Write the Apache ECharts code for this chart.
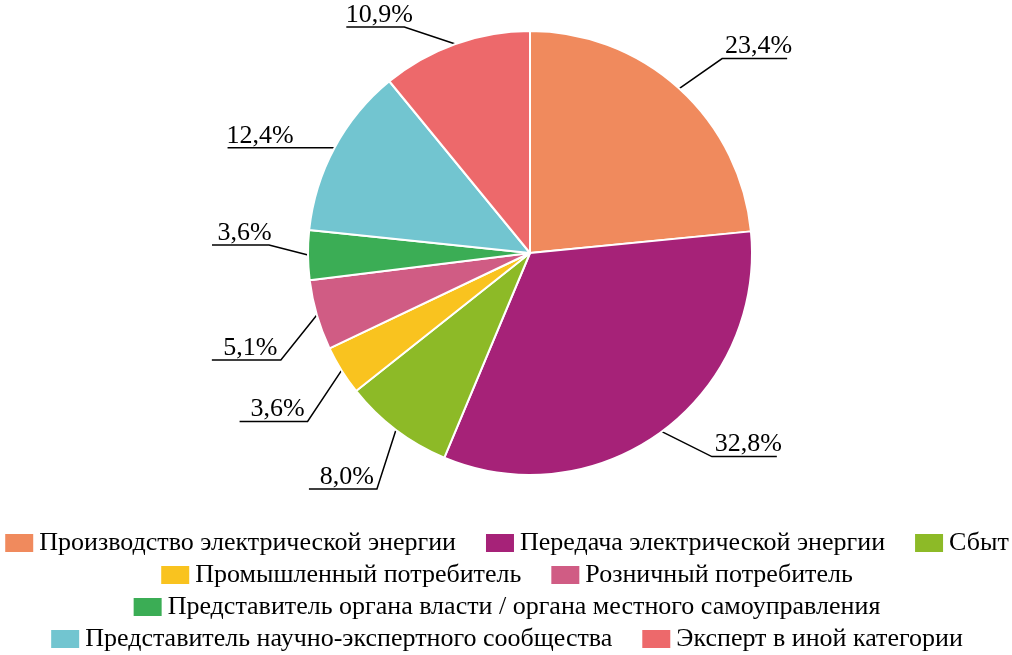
<!DOCTYPE html>
<html>
<head>
<meta charset="utf-8">
<script src="https://cdn.jsdelivr.net/npm/echarts@6/dist/echarts.min.js"></script>
<style>
html,body{margin:0;padding:0;background:#fff;}
#chart{width:1012px;height:655px;}
</style>
</head>
<body>
<div id="chart"></div>
<script>
const categories = [
  'Производство электрической энергии',
  'Передача электрической энергии',
  'Сбыт',
  'Промышленный потребитель',
  'Розничный потребитель',
  'Представитель органа власти / органа местного самоуправления',
  'Представитель научно-экспертного сообщества',
  'Эксперт в иной категории'
];
const values = [23.4, 32.8, 8.0, 3.6, 5.1, 3.6, 12.4, 10.9];
const colors = ['#F08A5D', '#A62278', '#8DBA27', '#F9C31F', '#D05C84', '#3BAD55', '#72C5D0', '#ED696B'];
// legend rows (indices into categories)
const legendRows = [[0, 1, 2], [3, 4], [5], [6, 7]];
// leader-line bend offsets from slice edge [dx, dy, horizontal length]
const labelBends = [[43, -30, 65], [50, 25, 65], [-19, 59, 68], [-34, 51, 68], [-36, 45, 69], [-39, -10, 57], [-50, 0, 57], [-51, -17, 58]];

const chart = echarts.init(document.getElementById('chart'), null, {renderer: 'canvas'});
const font = '"Liberation Serif", "Times New Roman", serif';
const rowTops = [525, 557, 589, 621];

const legends = legendRows.map((row, r) => ({
  data: row.map(i => categories[i]),
  left: 'center',
  top: rowTops[r],
  orient: 'horizontal',
  width: 1400,
  icon: 'rect',
  itemWidth: 30,
  itemHeight: 20,
  itemGap: 28,
  selectedMode: false,
  textStyle: {fontFamily: font, fontSize: 26, color: '#000'}
}));

const option = {
  animation: false,
  color: colors,
  textStyle: {fontFamily: font},
  legend: legends,
  series: [{
    type: 'pie',
    center: [530, 253],
    radius: [0, 222],
    startAngle: 90,
    clockwise: true,
    avoidLabelOverlap: false,
    itemStyle: {borderColor: '#fff', borderWidth: 2},
    data: categories.map((c, i) => ({name: c, value: values[i]})),
    label: {
      show: true,
      position: 'outside',
      fontFamily: font,
      fontSize: 26,
      color: '#000',
      formatter: p => p.value.toFixed(1).replace('.', ',') + '%'
    },
    labelLine: {
      show: true,
      length: 30,
      length2: 60,
      lineStyle: {color: '#000', width: 1.5}
    },
    emphasis: {disabled: true},
    labelLayout: function (params) {
      const i = params.dataIndex;
      const pts = params.labelLinePoints;
      if (!pts) return {};
      const p0 = pts[0];
      const b = labelBends[i];
      const bend = [p0[0] + b[0], p0[1] + b[1]];
      const dir = b[0] < 0 ? -1 : 1;
      const end = [bend[0] + dir * b[2], bend[1]];
      return {
        x: (bend[0] + end[0]) / 2 + 4,
        y: bend[1] + 1,
        align: 'center',
        verticalAlign: 'bottom',
        labelLinePoints: [p0, bend, end]
      };
    }
  }]
};
chart.setOption(option);
</script>
</body>
</html>
